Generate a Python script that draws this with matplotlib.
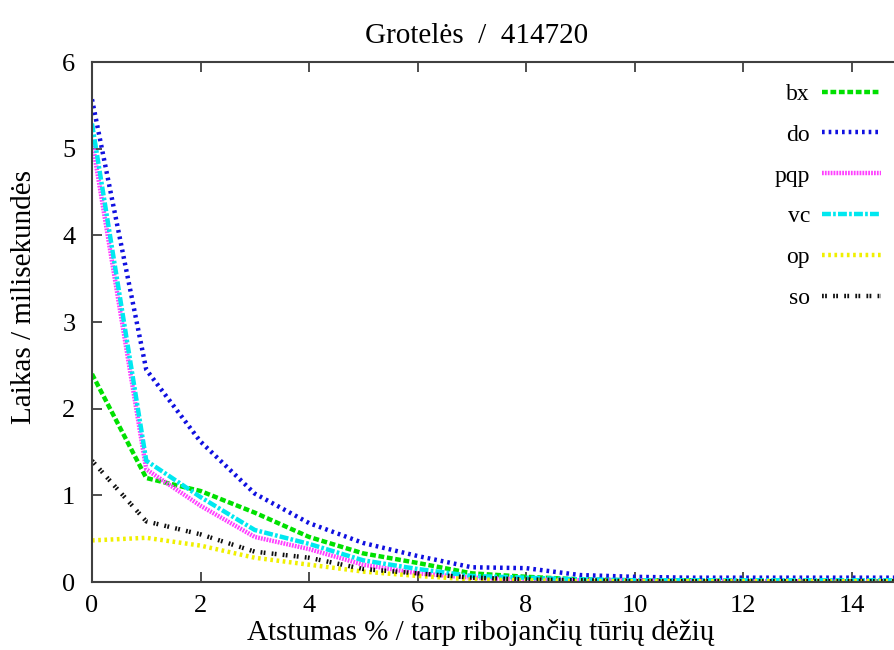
import matplotlib.pyplot as plt

plt.rcParams['font.family'] = ['Liberation Serif', 'DejaVu Serif']

x = list(range(16))
bx = [2.40, 1.20, 1.05, 0.80, 0.52, 0.33, 0.22, 0.10, 0.06, 0.03, 0.02, 0.02, 0.01, 0.01, 0.01, 0.01]
do = [5.57, 2.45, 1.62, 1.02, 0.68, 0.45, 0.30, 0.17, 0.16, 0.08, 0.06, 0.05, 0.05, 0.05, 0.05, 0.05]
pqp = [5.10, 1.30, 0.88, 0.52, 0.38, 0.20, 0.10, 0.05, 0.03, 0.02, 0.02, 0.01, 0.01, 0.01, 0.01, 0.01]
vc = [5.29, 1.40, 0.98, 0.60, 0.44, 0.25, 0.15, 0.07, 0.05, 0.03, 0.02, 0.02, 0.02, 0.02, 0.02, 0.02]
op = [0.48, 0.51, 0.42, 0.28, 0.20, 0.12, 0.07, 0.03, 0.02, 0.01, 0.01, 0.01, 0.01, 0.01, 0.01, 0.01]
so = [1.40, 0.70, 0.55, 0.35, 0.28, 0.15, 0.10, 0.05, 0.03, 0.02, 0.01, 0.01, 0.01, 0.01, 0.01, 0.01]

fig = plt.figure(figsize=(8.94, 6.5), dpi=100)
ax = fig.add_axes([0.1029, 0.1046, 0.8971, 0.8])

lw = 3.2
ax.plot(x, bx, color='#00e000', lw=lw, dashes=(1.3, 0.6), label='bx')
ax.plot(x, do, color='#1010e0', lw=lw, dashes=(0.6, 0.9), label='do')
ax.plot(x, pqp, color='#ff40ff', lw=lw, dashes=(0.4, 0.25), label='pqp')
ax.plot(x, vc, color='#00e8f0', lw=lw, dashes=(2.0, 0.5, 0.6, 0.5), label='vc')
ax.plot(x, op, color='#f0f000', lw=lw, dashes=(0.6, 0.8), label='op')
ax.plot(x, so, color='#101010', lw=lw, dashes=(0.4, 0.3, 0.4, 1.4), label='so')

ax.set_xlim(0, 14.78)
ax.set_ylim(0, 6)
ax.set_xticks(range(0, 15, 2))
ax.set_yticks(range(0, 7))
for side in ['left', 'bottom', 'top']:
    ax.spines[side].set_color('#404040')
    ax.spines[side].set_linewidth(1.5)
ax.spines['right'].set_visible(False)
ax.tick_params(direction='in', length=7, width=1.3, color='#404040',
               labelsize=19, top=True)
ax.tick_params(axis='x', pad=9)
ax.tick_params(axis='y', pad=12)

ax.set_xlabel('Atstumas % / tarp ribojančių tūrių dėžių', fontsize=21)
ax.xaxis.set_label_coords(0.485, -0.071)
ax.set_ylabel('Laikas / milisekundės', fontsize=21)
ax.yaxis.set_label_coords(-0.068, 0.548)
ax.set_title('Grotelės  /  414720', fontsize=21, x=0.48, pad=14)

ax.legend(loc='upper right', bbox_to_anchor=(1.01, 1.0), frameon=False,
          markerfirst=False, handlelength=2.5, labelspacing=0.82, fontsize=17,
          handletextpad=0.5)

fig.savefig('out.png', dpi=100)
